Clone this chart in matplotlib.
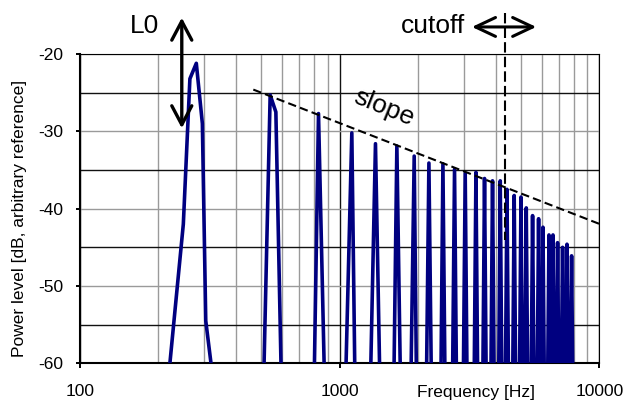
import numpy as np
import matplotlib.pyplot as plt
from matplotlib.ticker import NullFormatter

plt.rcParams['font.family'] = ['Liberation Sans', 'DejaVu Sans']
plt.rcParams['axes.unicode_minus'] = False

# ---------- spectrum ----------
# harmonic peaks (Hz, dB)
peak_freq = [280.5, 540, 829, 1114, 1374, 1661, 1937, 2207, 2499, 2770,
             3045, 3349, 3614, 3880, 4155, 4410, 4702, 4993, 5233, 5534,
             5837, 6069, 6401, 6632, 6908, 7222, 7509, 7822]
peak_db = [-21.2, -25.3, -27.7, -30.2, -31.6, -31.9, -33.2, -34.1, -34.2, -34.9,
           -35.4, -35.3, -36.1, -36.4, -36.4, -37.5, -38.3, -38.5, -39.9, -40.9,
           -41.3, -42.4, -43.4, -43.4, -44.4, -45.0, -44.6, -46.1]

# foot of each spike (below the -60 floor, so it is clipped away)
base_lo = [219, 510, 798, 1055, 1315, 1618, 1882, 2160, 2455, 2722,
           2995, 3297, 3560, 3824, 4097, 4350, 4640, 4929, 5167, 5466,
           5767, 5997, 6327, 6556, 6830, 7142, 7427, 7738]
base_hi = [325, 596, 874, 1145, 1428, 1714, 1976, 2255, 2545, 2818,
           3095, 3401, 3668, 3936, 4213, 4470, 4764, 5057, 5299, 5602,
           5907, 6141, 6475, 6708, 6986, 7302, 7591, 7906]
base_db = -62

# extra knees on the first two peaks
knee_freq = [250, 265, 296, 305, 568]
knee_db = [-42.0, -23.2, -29.0, -54.5, -27.5]

# overlay guides
slope_freq = [465, 10240]
slope_db = [-24.6, -42.1]
cutoff_freq = 4340
cutoff_db = [-14.7, -44.1]
l0_freq = 246.6
l0_db = [-15.3, -29.6]
cut_arrow_freq = [3232, 5717]
cut_arrow_db = -16.5

# ---------- build trace ----------
f_all = np.concatenate([peak_freq, base_lo, base_hi, knee_freq]).astype(float)
d_all = np.concatenate([peak_db, [base_db] * len(base_lo),
                        [base_db] * len(base_hi), knee_db]).astype(float)
order = np.argsort(f_all)
f_all, d_all = f_all[order], d_all[order]

# ---------- plotting ----------
fig = plt.figure(figsize=(6.27, 4.01), dpi=100)
ax = fig.add_axes([0.1276, 0.094, 0.8282, 0.7713])

ax.set_xscale('log')
ax.set_xlim(100, 10000)
ax.set_ylim(-60, -20)

ax.set_xticks([100, 1000, 10000])
ax.set_xticklabels(['100', '1000', '10000'])
ax.xaxis.set_minor_formatter(NullFormatter())
ax.set_yticks([-60, -50, -40, -30, -20])
ax.set_yticks([-55, -45, -35, -25], minor=True)

ax.tick_params(axis='both', which='major', labelsize=12.5, direction='out',
               width=1.4, color='k')
ax.tick_params(axis='x', which='major', length=3.6, pad=11)
ax.tick_params(axis='y', which='major', length=3.0, pad=9)
ax.tick_params(which='minor', length=0)

ax.xaxis.grid(True, which='major', color='#111111', lw=1.0)
ax.xaxis.grid(True, which='minor', color='#9a9a9a', lw=1.0)
ax.yaxis.grid(True, which='major', color='#9a9a9a', lw=1.0)
ax.yaxis.grid(True, which='minor', color='#111111', lw=1.0)
ax.set_axisbelow(True)

for side in ['left', 'bottom']:
    ax.spines[side].set_linewidth(1.5)
for side in ['top', 'right']:
    ax.spines[side].set_linewidth(0.8)

ax.plot(f_all, d_all, color='#000080', lw=2.6, zorder=3)

# slope guide
ax.plot(slope_freq, slope_db, color='k', lw=1.5, ls=(0, (4, 2)),
        clip_on=False, zorder=4)
ax.text(1484, -27.0, 'slope', fontsize=19, rotation=-22,
        ha='center', va='center', zorder=5)

# cutoff guide
ax.plot([cutoff_freq, cutoff_freq], cutoff_db, color='k', lw=1.5,
        ls=(0, (5, 2)), clip_on=False, zorder=4)
ax.annotate('', xy=(cut_arrow_freq[0], cut_arrow_db),
            xytext=(cut_arrow_freq[1], cut_arrow_db),
            arrowprops=dict(arrowstyle='<->,head_length=0.72,head_width=0.34',
                            lw=2.2, color='k', mutation_scale=20,
                            shrinkA=0, shrinkB=0),
            annotation_clip=False, zorder=5)
ax.text(2287, -16.4, 'cutoff', fontsize=19, ha='center', va='center')

# L0 arrow
ax.annotate('', xy=(l0_freq, l0_db[0]), xytext=(l0_freq, l0_db[1]),
            arrowprops=dict(arrowstyle='<->,head_length=0.68,head_width=0.36',
                            lw=2.4, color='k', mutation_scale=20,
                            shrinkA=0, shrinkB=0),
            annotation_clip=False, zorder=5)
ax.text(176.4, -16.4, 'L0', fontsize=19, ha='center', va='center')

fig.text(475.7 / 627, 4.3 / 401, 'Frequency [Hz]', fontsize=12.5,
         ha='center', va='baseline')
fig.text(19.5 / 627, 1 - 218 / 401, 'Power level [dB, arbitrary reference]',
         fontsize=12.5, rotation=90, ha='center', va='center')

fig.savefig('out.png', dpi=100)
